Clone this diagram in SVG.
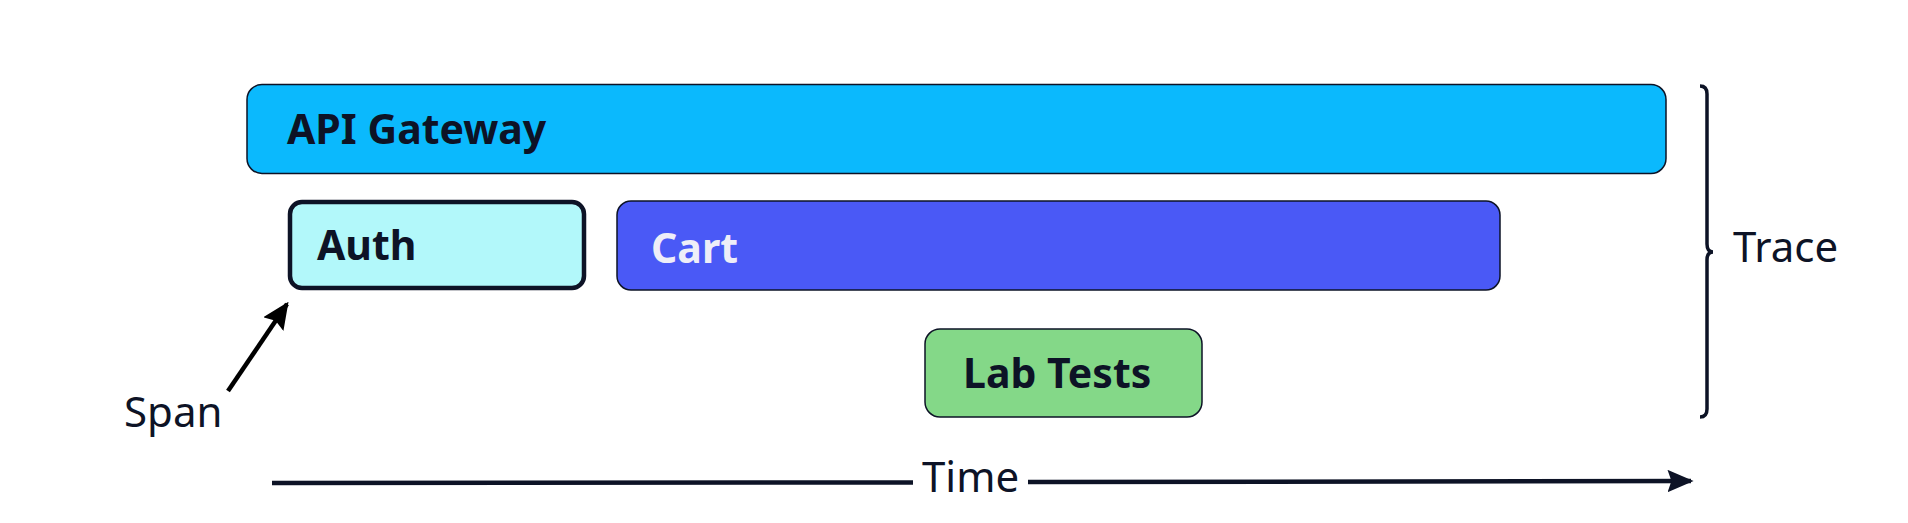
<svg xmlns="http://www.w3.org/2000/svg" width="1908" height="523" viewBox="0 0 1908 523">
<style>
.lbl{font-family:"Noto Sans","Open Sans",sans-serif;font-weight:700;font-size:41px;fill:#0D1326}
.txt{font-family:"Noto Sans","Open Sans",sans-serif;font-weight:400;font-size:42px;fill:#0D1326}
.box{stroke:#0D1326;stroke-width:1.5}
</style>
<defs>
<marker id="ah" viewBox="0 0 10 10" refX="9" refY="5" markerWidth="5.8" markerHeight="5" markerUnits="strokeWidth" orient="auto" preserveAspectRatio="none">
<path d="M0,0 L10,5 L0,10 L1.5,5 Z" fill="#0D1326"/>
</marker>
<marker id="ah2" viewBox="0 0 10 10" refX="9" refY="5" markerWidth="6" markerHeight="5.4" markerUnits="strokeWidth" orient="auto" preserveAspectRatio="none">
<path d="M0,0 L10,5 L0,10 L1.5,5 Z" fill="#000"/>
</marker>
</defs>
<rect width="1908" height="523" fill="#fff"/>
<g id="api-gateway">
<rect class="box" x="247" y="84.5" width="1419" height="89" rx="15" fill="#0BB9FD"/>
<text class="lbl" x="287" y="144">API Gateway</text>
</g>
<g id="auth">
<rect x="290" y="202" width="294" height="86" rx="12" fill="#B2F8FA" stroke="#0D1326" stroke-width="4.5"/>
<text class="lbl" x="317" y="260">Auth</text>
</g>
<g id="cart">
<rect class="box" x="617" y="201" width="883" height="89" rx="14" fill="#4A59F6" stroke="#1E2A6B"/>
<text class="lbl" x="651" y="263" style="fill:#EEEEF8">Cart</text>
</g>
<g id="lab-tests">
<rect class="box" x="925" y="329" width="277" height="88" rx="15" fill="#84D888"/>
<text class="lbl" x="963" y="388">Lab Tests</text>
</g>
<g id="trace">
<path d="M1700,86 Q1707,86 1707,94 L1707,244 Q1707,252 1713,252 Q1707,252 1707,260 L1707,409 Q1707,417 1700,417" fill="none" stroke="#0D1326" stroke-width="3.5"/>
<text class="txt" x="1733" y="262">Trace</text>
</g>
<g id="span">
<text class="txt" x="124" y="427">Span</text>
</g>
<g id="time">
<text class="txt" x="922" y="492">Time</text>
</g>
<g id="connectors">
<line x1="228" y1="391" x2="287" y2="304" stroke="#000" stroke-width="4.5" marker-end="url(#ah2)"/>
<line x1="272" y1="483" x2="913" y2="482.5" stroke="#0D1326" stroke-width="4.5"/>
<line x1="1028" y1="482" x2="1691" y2="481" stroke="#0D1326" stroke-width="4.5" marker-end="url(#ah)"/>
</g>
</svg>
